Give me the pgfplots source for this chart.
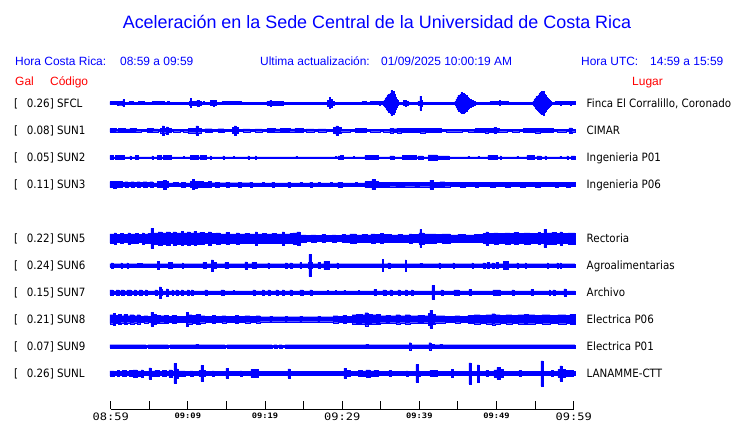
\documentclass[border=0pt]{standalone}
\usepackage{pgfplots}
\pgfplotsset{compat=1.18}
\usepackage{pgfplotstable}
\usepackage{fontspec}
\setmainfont{Liberation Sans}
\newfontfamily\labfont[FakeStretch=0.9]{DejaVu Sans}
\newfontfamily\tickfont[FakeStretch=1.17]{DejaVu Sans Mono}
\newcommand{\bigtk}{\tickfont\fontsize{10.3}{12}\selectfont}
\newcommand{\smalltk}{\tickfont\bfseries\fontsize{7.5}{8}\selectfont}
\definecolor{tblue}{RGB}{0,0,255}
\definecolor{tred}{RGB}{255,0,0}

% half-amplitude envelopes (px) of each trace, step function, time in minutes after 08:59
\pgfplotstableread{
t a
-0.1 1.5
0.69 0.6
0.82 2
1.33 2
1.59 3.5
1.72 0.6
2.37 1.5
2.89 0.6
3.54 1.5
4.31 0.6
5.35 1.5
6.91 0.6
7.30 1.5
7.55 0.6
8.59 1
8.72 0.6
10.15 2
10.28 4.5
10.41 2
11.18 3
11.44 2
11.70 0.6
11.96 1.5
12.09 0.6
12.87 2.5
13.26 3
13.39 2.5
13.64 0.6
14.42 1.5
16.88 1
18.18 0.6
19.09 1
19.22 0.6
20.25 2
20.64 3
20.77 2
22.33 0.6
22.97 1
23.10 0.6
23.88 1
24.01 0.6
24.40 1
24.53 0.6
24.92 1
25.05 0.6
25.95 1
26.34 0.6
27.12 1
27.25 0.6
28.03 3
28.29 5.5
28.42 3
28.55 4
28.68 2
28.94 0.6
29.32 1
29.84 0.6
30.62 1
30.75 0.6
31.27 1
31.40 0.6
31.92 1
32.05 0.6
32.56 1.5
33.08 0.6
33.60 1.5
34.77 2
34.90 1.5
35.28 2
35.41 3
35.54 4.5
35.67 6
35.80 7.5
35.93 9
36.06 8
36.19 10
36.32 12.5
36.45 10
36.58 11.5
36.71 9
36.84 6
36.97 4
37.10 2.5
37.23 0.6
37.88 2.5
38.14 3
38.27 2
38.53 0.6
39.82 2
40.08 7
40.21 3
40.34 1
42.54 0.6
43.06 1
43.84 0.6
44.61 2
44.74 4
44.87 6
45.00 8
45.13 7
45.26 9
45.39 10.5
45.52 8
45.65 10
45.78 9
45.91 7.5
46.04 8
46.17 6
46.30 5
46.43 4
46.69 3
46.95 2
47.21 1
48.37 0.6
49.15 1.5
50.32 2.5
50.45 1.5
51.48 0.6
52.00 1
52.78 0.6
53.43 1
53.56 0.6
54.72 2
54.85 3.5
54.98 5
55.11 6.5
55.24 7
55.37 8
55.50 9.5
55.63 10.5
55.76 11.5
55.89 10
56.02 12
56.15 9
56.28 8
56.41 6
56.54 5
56.67 4
56.80 3
56.93 2
57.06 0.6
57.57 1.5
58.22 2
58.35 1.5
59.52 2
59.65 1.5
60.16 1.5
}\tA

\pgfplotstableread{
t a
-0.1 1.8
0.69 1.3
0.95 2
1.85 1.5
2.50 2
3.28 1.3
3.93 0.8
4.70 1.8
5.48 1.4
6.13 0.8
6.39 2.3
6.65 4.5
6.91 2.3
7.17 3.5
7.43 1.8
7.81 0.8
8.07 1.3
8.98 0.8
9.37 1.3
10.02 2.3
11.05 4.5
11.31 2.3
11.70 1
12.22 1.6
13.13 1
13.90 1.6
14.68 1
15.72 2.8
15.98 4.5
16.24 2.8
16.50 1
17.14 1.4
18.05 0.8
18.70 1.4
19.61 0.8
20.25 1.8
21.29 1.4
21.94 1.8
23.23 1.4
23.88 1.8
24.92 1
25.31 1.4
26.34 0.8
26.86 1.4
27.90 0.8
28.81 2.8
29.19 4.5
29.45 2.8
29.84 1.3
31.01 0.8
31.66 1.8
33.08 0.8
33.60 1.3
34.90 0.8
35.28 1.3
36.19 2.3
36.58 1.6
37.10 2.3
37.62 1.8
40.08 2.3
40.73 1.8
42.80 1
43.45 1.3
45.52 0.8
46.30 1.3
47.08 0.8
47.21 1.8
48.50 2.3
48.89 1.8
49.67 3
49.93 1.8
50.32 1.3
51.35 0.8
52.00 1.3
52.91 0.8
53.43 1.8
54.98 2.3
55.63 1.8
57.31 1
57.83 1.3
59.00 0.8
59.39 2.5
59.78 1.3
60.16 1.3
}\tB

\pgfplotstableread{
t a
-0.1 2
0.30 0.5
0.56 2
0.82 0.5
0.95 2
1.21 0.5
1.33 2
1.72 0.5
2.50 1.5
2.63 0.5
3.15 2
3.54 0.5
5.35 1.5
5.48 0.5
6.00 2
6.52 0.5
6.78 2
7.81 0.5
9.37 1
9.50 0.5
10.28 2
11.31 0.5
11.57 2
12.35 0.5
12.87 1.5
13.00 0.5
14.55 1.5
14.68 0.5
15.85 1
15.98 0.5
17.79 1.5
17.92 0.5
18.70 1.5
18.83 0.5
24.01 1
24.14 0.5
29.07 1
29.19 0.5
29.45 1.5
29.58 0.5
29.71 2
30.10 0.5
31.40 1
31.53 0.5
32.95 2
33.60 0.5
33.73 2
34.64 0.5
36.19 1.5
36.71 0.5
37.75 2
38.53 0.5
38.66 2
39.56 0.5
39.82 1.5
40.47 0.5
41.12 2.5
42.29 1.5
43.84 0.5
46.30 1
46.43 0.5
47.59 1
47.72 0.5
48.89 2
50.06 0.5
50.45 1.5
50.58 0.5
52.65 1
52.78 0.5
53.94 2
54.85 0.5
55.24 1.5
55.76 0.5
56.28 1.5
56.41 0.5
58.22 1
58.35 0.5
59.13 1.5
59.26 0.5
59.65 1.5
60.16 1.5
}\tC

\pgfplotstableread{
t a
-0.1 3
0.30 3.5
0.69 3
1.46 2
1.85 2.8
2.24 2
2.63 2.8
3.02 2
3.41 2.8
3.80 2
4.19 2.8
4.70 2
5.09 2.8
5.48 1.6
6.00 3
6.78 4.5
7.17 3
7.43 1.6
8.07 2
8.72 1.6
9.11 2.3
9.63 1.6
10.28 3
10.54 5
10.79 3.5
11.18 3
11.57 3
11.96 2.5
12.61 3
13.00 1.8
13.52 2.3
14.03 1.8
14.94 2.3
15.33 1.8
16.50 2.3
16.88 1.8
18.05 2.3
18.31 1.6
19.61 2
19.87 1.6
20.90 2.3
21.16 1.6
22.97 2.5
23.23 1.6
24.53 2
24.79 1.6
25.82 2.5
26.08 1.6
26.86 2
27.12 1.6
28.42 2
28.68 1.6
29.45 2.5
29.97 1.6
31.66 2
31.92 1.6
32.95 3
33.86 5
34.25 3
34.64 2.5
36.19 2.2
36.97 2.5
38.14 2.2
39.43 2.5
40.08 2.2
41.37 4.5
41.76 2.5
42.67 2.8
43.32 2.2
43.97 2
45.26 2.5
45.91 2
47.21 2.5
47.59 2
49.15 2.5
49.80 2
51.09 2.5
51.74 2
53.04 2.5
53.69 2
54.98 2.5
55.63 2
57.57 2.5
57.96 2
59.00 2.5
59.52 2
60.16 2
}\tD

\pgfplotstableread{
t a
-0.1 4.5
0.43 5.5
0.69 4
1.21 5
1.59 4
2.24 5.5
2.50 4.5
3.15 5
3.54 4
4.06 5.5
4.31 4.5
4.83 5
5.22 10
5.48 5.5
6.13 6.5
6.65 5.5
7.17 6.5
7.69 5
8.07 6.5
8.46 5.5
9.11 7
9.37 5.5
9.89 6.5
10.28 5.5
10.79 7
11.05 5.5
11.57 6
12.09 5
12.61 6.5
13.00 5
13.64 5.5
14.16 4.5
14.94 6
15.33 4.5
16.24 5.5
16.62 4.5
17.40 5
17.92 4.5
18.70 6.5
18.96 4.5
19.61 5
20.12 4.5
20.90 5
21.42 4.5
22.20 6.5
22.46 4.5
23.23 5
23.62 5.5
24.14 6.5
24.53 3.5
25.31 3
25.95 3.5
26.60 3
27.38 4
27.77 3
28.68 3.5
29.19 3
29.97 4
30.36 3.5
31.01 4.5
31.79 3.5
32.56 4
33.21 3.5
33.73 4.5
34.25 4
34.90 5
35.28 4
35.93 4
36.32 3.5
37.23 4
37.75 3.5
38.66 4.5
39.04 4
39.95 5.5
40.08 9
40.21 5.5
40.60 4.5
41.37 4.5
42.15 4
42.93 4.5
43.97 3.5
45.00 4
45.91 3.5
47.08 4
48.24 5
48.63 6.5
48.89 5
49.67 5.5
50.19 5
51.09 5.5
51.74 5
52.26 6
52.78 5
53.56 5.5
54.33 5
55.37 6
55.63 5
56.15 9
56.41 5.5
57.18 6
57.70 5
58.22 6.5
58.48 5
59.26 5.5
60.16 5.5
}\tE

\pgfplotstableread{
t a
-0.1 1.7
0.04 2.5
0.30 1.7
1.33 2.5
1.46 1.7
2.11 2.5
2.24 1.7
3.41 2
4.06 1.7
6.00 4
6.26 1.7
7.43 3
7.94 1.7
9.24 2.5
9.37 1.7
11.96 3
12.35 1.7
13.00 5.5
13.26 3
13.64 1.7
14.81 3
15.20 1.7
17.40 3.5
17.66 1.7
18.31 3
18.83 1.7
20.38 2.5
20.51 1.7
22.59 2.5
22.85 1.7
23.23 2.5
23.49 1.7
24.53 3
24.66 1.7
25.57 3
25.69 11
25.95 3
26.08 1.7
26.86 3
27.12 1.7
27.64 4
27.90 2.5
28.03 4
28.29 1.7
29.32 2.5
29.45 1.7
35.16 6
35.28 1.7
35.93 2.5
36.19 1.7
38.14 5.5
38.27 1.7
40.08 2
40.34 1.7
42.54 2.5
42.67 1.7
44.35 2.5
44.48 1.7
46.82 2.5
46.95 1.7
48.24 2.5
48.50 1.7
48.76 3
49.02 1.7
49.41 2.5
49.67 1.7
49.93 3
50.19 1.7
50.84 4
51.48 1.7
52.65 2.5
52.78 1.7
53.69 2.5
53.82 1.7
56.54 2.5
56.67 1.7
57.83 2.5
57.96 1.7
58.22 2.5
58.35 1.7
60.16 1.7
}\tF

\pgfplotstableread{
t a
-0.1 2.5
0.30 1.5
0.69 2.5
1.08 1.5
1.33 2.5
1.72 1.5
2.11 2.5
2.63 1.5
3.02 2.5
3.28 1.5
3.67 2.5
4.06 1.5
4.45 2.5
4.70 1.5
5.74 2.5
6.00 1.5
6.26 5.5
6.52 3
6.65 1.5
7.17 3.5
7.43 1.5
7.94 2.5
8.07 1.5
8.46 2.5
8.72 1.5
9.11 2.5
9.37 1.5
9.89 2.5
10.15 1.5
10.41 2.5
10.66 1.5
12.22 2.5
12.48 1.5
14.29 2.5
14.68 1.5
15.85 2
15.98 1.5
18.44 2.5
18.70 1.5
19.61 2.5
19.87 1.5
20.38 2.5
20.64 1.5
21.42 2.5
21.68 1.5
22.20 2.5
22.46 1.5
23.23 2.5
23.49 1.5
24.53 2.5
24.92 1.5
25.82 2.5
26.08 1.5
28.03 2
28.16 1.5
29.07 2
29.19 1.5
30.23 2
30.36 1.5
32.05 2
32.18 1.5
34.12 3
34.38 1.5
35.28 2.5
35.67 1.5
36.19 2.5
36.45 1.5
37.23 2.5
37.49 1.5
38.14 2.5
38.40 1.5
38.92 2.5
39.17 1.5
41.63 7
41.89 1.5
42.80 2.5
43.06 1.5
44.48 2.5
45.13 1.5
46.43 3
46.69 1.5
49.54 2.5
50.45 1.5
52.00 2.5
52.26 1.5
54.46 3
54.72 1.5
56.80 2.5
56.93 1.5
57.31 2.5
57.57 1.5
58.74 3.5
59.00 1.5
60.16 1.5
}\tG

\pgfplotstableread{
t a
-0.1 4.5
0.30 6
0.56 4
0.95 5
1.33 3.5
1.72 5
2.11 3.5
2.50 4.5
3.02 3.5
3.41 4.5
3.80 3
4.31 3.5
4.83 3
5.22 7
5.48 5
5.87 4
6.39 3.5
6.91 4
7.43 3
7.94 4
8.46 3
9.11 3
9.76 7
10.02 4.5
10.54 4
11.05 5
11.57 3.5
12.22 3
13.13 4
13.52 3
14.42 3.5
14.94 3
16.11 4
16.50 3
17.40 3.5
18.05 3
18.83 3.5
19.35 2.5
20.64 3
20.90 2.5
22.59 3
22.85 2.5
24.53 3
24.79 2.5
26.86 3
27.12 2.5
28.81 3.5
29.45 3
30.10 4
30.49 3
31.27 4.5
31.79 5
32.56 4.5
32.95 6.5
33.34 5
33.86 4.5
34.38 5
34.90 3.5
35.67 4
36.19 3.5
36.97 4.5
37.49 3.5
38.14 4.5
38.78 3.5
39.82 4
40.60 3.5
41.12 6
41.37 9
41.63 5
42.02 3.5
43.32 3
44.61 3.5
45.26 3
46.30 4
47.08 4.5
47.86 4
48.63 4.5
49.41 5.5
49.80 4.5
50.45 4
51.22 4.5
52.00 4
52.78 4.5
53.56 5
54.07 4.5
54.98 4
55.89 4.5
56.93 4
57.96 4.5
59.00 4
59.52 5
60.16 5
}\tH

\pgfplotstableread{
t a
-0.1 1.6
4.57 0.7
4.83 1.6
7.43 0.7
7.69 1.6
11.05 2.2
11.31 1.6
14.81 0.7
15.07 1.6
20.90 0.7
21.16 1.6
21.55 0.7
21.81 1.6
22.20 0.9
22.59 1.6
33.08 2.2
33.34 1.6
38.66 3.5
38.92 1.6
41.24 3.5
41.50 2
41.89 1.6
42.67 2
42.93 1.6
60.16 1.6
}\tI

\pgfplotstableread{
t a
-0.1 2.5
0.43 2
0.82 3
1.08 2
1.46 2.8
1.98 2
2.37 2.8
2.89 3.5
3.41 2.5
3.93 3.5
4.19 2
4.96 5.5
5.22 2.5
5.74 3
6.26 2
6.65 3
7.17 2
7.55 3.5
7.94 2
8.20 10
8.46 4.5
8.72 2.5
9.63 2
10.28 2.5
10.66 2
11.44 3
11.70 8
11.96 3
12.22 2
13.13 2.5
13.39 2
14.94 5
15.20 2
16.75 2.5
17.01 2
18.18 4
19.09 2
22.97 4.5
23.23 2
30.23 5
30.49 3
31.01 2
32.05 3
32.56 2.5
33.08 3.5
33.60 2.5
34.12 3
34.64 2
36.06 3
36.32 2
38.27 2.5
38.53 2
39.56 9
39.82 2.5
40.08 2
41.37 3
42.29 2
44.10 4
44.35 2
46.43 10.5
46.69 2
47.47 8.5
47.72 2
48.63 3
48.89 2
49.67 3.5
50.06 6
50.45 4
50.84 2
52.91 3
53.17 2
55.76 12.5
56.02 2
57.06 3
57.31 2
57.96 4
58.22 7.5
58.48 4
58.87 3
59.91 2
60.16 2
}\tJ

\pgfplotsset{trace/.style={scale only axis, width=463bp, height=30bp,
  xmin=0, xmax=60, ymin=-15, ymax=15, hide axis, clip=false, anchor=west}}
\newcommand{\trace}[2]{%
  \begin{axis}[trace, at={(110.7bp,-#1bp)}]
    \addplot[const plot, fill=tblue, draw=tblue, line width=0.1bp] table[x=t, y=a] {#2} \closedcycle;
    \addplot[const plot, fill=tblue, draw=tblue, line width=0.1bp] table[x=t, y expr=-\thisrow{a}] {#2} \closedcycle;
  \end{axis}}
\newcommand{\row}[4]{% y, gal, code, place
  \node[anchor=base west, inner sep=0pt, font=\labfont\fontsize{11.5}{13}\selectfont] at (14bp,-#1bp-4.3bp) {[};
  \node[anchor=base west, inner sep=0pt, font=\labfont\fontsize{11.5}{13}\selectfont] at (26.6bp,-#1bp-4.3bp) {#2] #3};
  \node[anchor=base west, inner sep=0pt, font=\labfont\fontsize{11.5}{13}\selectfont] at (586.5bp,-#1bp-4.3bp) {#4};}

\begin{document}
\begin{tikzpicture}
\path[use as bounding box] (0,0) rectangle (740bp,-423bp);

\node[anchor=base, inner sep=0pt, text=tblue, font=\fontsize{18}{21}\selectfont] at (377bp,-28.5bp)
  {Aceleración en la Sede Central de la Universidad de Costa Rica};

\begin{scope}[every node/.style={anchor=base west, inner sep=0pt, text=tblue, font=\fontsize{12}{14}\selectfont}]
\node at (15bp,-65.3bp) {Hora Costa Rica:};
\node at (120bp,-65.3bp) {08:59 a 09:59};
\node at (260bp,-65.3bp) {Ultima actualización:};
\node at (381bp,-65.3bp) {01/09/2025 10:00:19 AM};
\node at (581bp,-65.3bp) {Hora UTC:};
\node at (650bp,-65.3bp) {14:59 a 15:59};
\end{scope}
\begin{scope}[every node/.style={anchor=base west, inner sep=0pt, text=tred, font=\fontsize{12}{14}\selectfont}]
\node at (15bp,-85bp) {Gal};
\node at (50bp,-85bp) {Código};
\node at (632bp,-85bp) {Lugar};
\end{scope}

\row{103}{0.26}{SFCL}{Finca El Corralillo, Coronado}
\row{130.3}{0.08}{SUN1}{CIMAR}
\row{157.3}{0.05}{SUN2}{Ingenieria P01}
\row{184.5}{0.11}{SUN3}{Ingenieria P06}
\row{238.3}{0.22}{SUN5}{Rectoria}
\row{265.3}{0.24}{SUN6}{Agroalimentarias}
\row{292.3}{0.15}{SUN7}{Archivo}
\row{319.2}{0.21}{SUN8}{Electrica P06}
\row{346.2}{0.07}{SUN9}{Electrica P01}
\row{373.3}{0.26}{SUNL}{LANAMME-CTT}

\trace{103}{\tA}
\trace{130.3}{\tB}
\trace{157.3}{\tC}
\trace{184.5}{\tD}
\trace{238.3}{\tE}
\trace{265.3}{\tF}
\trace{292.3}{\tG}
\trace{319.2}{\tH}
\trace{346.2}{\tI}
\trace{373.3}{\tJ}

\begin{axis}[at={(110.7bp,-409bp)}, anchor=south west, scale only axis,
  width=463bp, height=20bp, xmin=0, xmax=60, ymin=0, ymax=1,
  axis x line=bottom, axis y line=none, x axis line style={-, line width=1bp, black},
  xtick={0,5,...,60}, tick align=inside, major tick length=8.5bp,
  major tick style={black, line width=1bp},
  xticklabels={{\bigtk 08:59},{},{\smalltk 09:09},{},{\smalltk 09:19},{},{\bigtk 09:29},{},{\smalltk 09:39},{},{\smalltk 09:49},{},{\bigtk 09:59}},
  xticklabel style={anchor=north, inner sep=0pt, yshift=-3.6bp},
  clip=false]
\end{axis}
\end{tikzpicture}
\end{document}
